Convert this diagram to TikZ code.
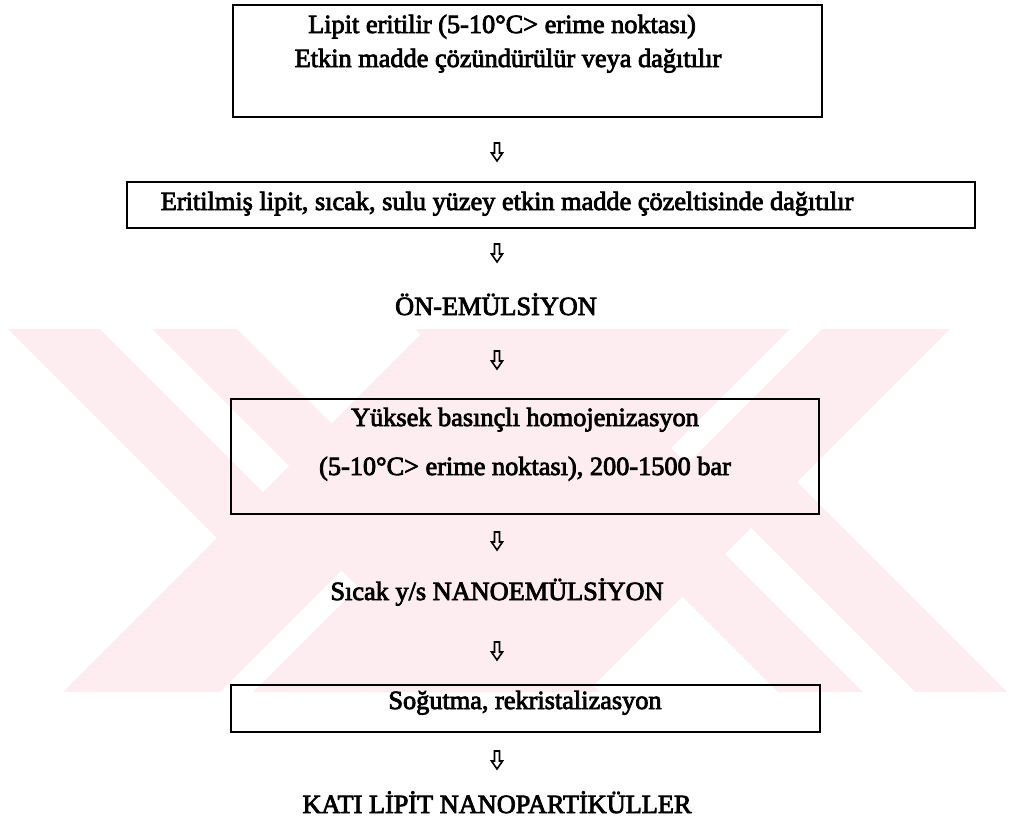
\documentclass[tikz,border=0pt]{standalone}
\usepackage{fontspec}
\setmainfont{Liberation Serif}
\newfontfamily\heavyserif{Liberation Serif}[FakeBold=3]
\definecolor{wmpink}{RGB}{253,236,240}
\tikzset{
  box/.style={draw, line width=2.1pt, inner sep=0pt},
  lbl/.style={inner sep=0pt, anchor=base, font=\fontsize{26.3}{30}\heavyserif},
  dnarrow/.pic={\draw[line width=1.6pt, line join=miter]
      (-2.5,-9) -- (2.5,-9) -- (2.5,1) -- (5.5,1) -- (0,9) -- (-5.5,1) -- (-2.5,1) -- cycle;}
}
\usetikzlibrary{fit}
\begin{document}
\begin{tikzpicture}[x=1pt,y=-1pt]
\useasboundingbox (0,0) rectangle (1012,825);
% watermark
\begin{scope}
\clip (0,329) rectangle (1012,692);
\fill[wmpink] (8,329) -- (237,329) -- (600,692) -- (371,692) -- cycle;
\fill[wmpink] (426,329) -- (723,329) -- (360,692) -- (63,692) -- cycle;
\fill[wmpink] (415,329) -- (644,329) -- (1007,692) -- (778,692) -- cycle;
\fill[wmpink] (653,329) -- (950,329) -- (587,692) -- (290,692) -- cycle;
\fill[white] (100,329) -- (152,329) -- (289,466) -- (263,492) -- cycle;
\fill[white] (725,554) -- (751,528) -- (915,692) -- (863,692) -- cycle;
\fill[white] (220,692) -- (253,692) -- (358,587) -- (341.5,570.5) -- cycle;
\fill[white] (790,329) -- (822,329) -- (687,464) -- (671,448) -- cycle;
\end{scope}
% diagram
\node[box, fit={(233,5) (822,117)}] (b1) {};
\node[lbl] (t1a) at (502,33) {Lipit eritilir (5-10°C> erime noktası)};
\node[lbl] (t1b) at (508,67) {Etkin madde çözündürülür veya dağıtılır};
\pic (a1) at (497,152) {dnarrow};
\node[box, fit={(127,182) (975,228)}] (b2) {};
\node[lbl] (t2) at (507,210) {Eritilmiş lipit, sıcak, sulu yüzey etkin madde çözeltisinde dağıtılır};
\pic (a2) at (497,253) {dnarrow};
\node[lbl] (t3) at (496,315) {ÖN-EMÜLSİYON};
\pic (a3) at (497,360) {dnarrow};
\node[box, fit={(231,399) (819,514)}] (b3) {};
\node[lbl] (t4a) at (525,426) {Yüksek basınçlı homojenizasyon};
\node[lbl] (t4b) at (525,475) {(5-10°C> erime noktası), 200-1500 bar};
\pic (a4) at (497,541) {dnarrow};
\node[lbl] (t5) at (497,600) {Sıcak y/s NANOEMÜLSİYON};
\pic (a5) at (497,651) {dnarrow};
\node[box, fit={(231,685) (820,732)}] (b4) {};
\node[lbl] (t6) at (525,709) {Soğutma, rekristalizasyon};
\pic (a6) at (497,760) {dnarrow};
\node[lbl] (t7) at (497,813) {KATI LİPİT NANOPARTİKÜLLER};
\end{tikzpicture}
\end{document}
